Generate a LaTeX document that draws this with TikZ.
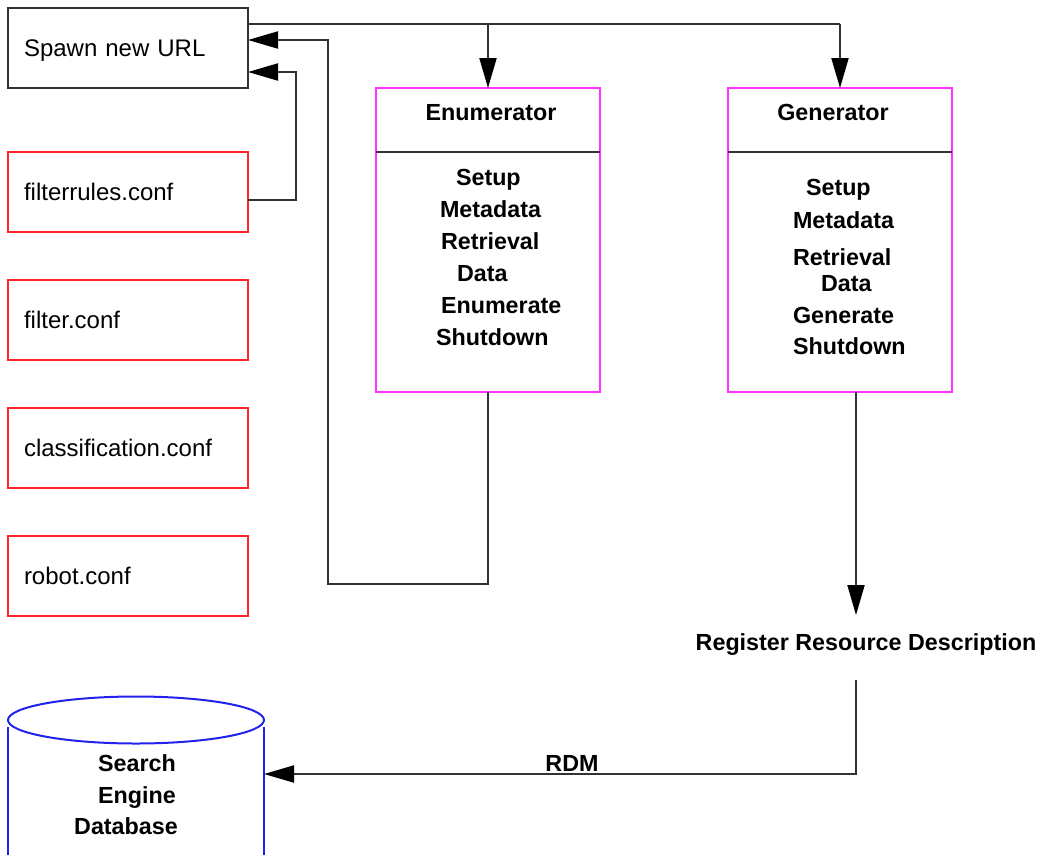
\documentclass[tikz,border=0pt]{standalone}
\usepackage{fontspec}
\setmainfont{Liberation Sans}
\usepackage{tikz}
\usetikzlibrary{positioning,arrows.meta,calc}
\definecolor{lineGray}{RGB}{51,51,51}
\definecolor{confRed}{RGB}{255,40,40}
\definecolor{procPink}{RGB}{255,51,255}
\definecolor{dbBlue}{RGB}{34,34,238}
\tikzset{
    base/.style={font=\fontsize{24}{28}\selectfont, inner sep=0pt, outer sep=0pt},
    bold/.style={base, font=\fontsize{23.3}{28}\selectfont\bfseries},
    filebox/.style={base, rectangle, line width=2pt, minimum width=240pt,
                    minimum height=80pt, text width=208pt, inner xsep=16pt,
                    text depth=0pt, align=left},
    spawnbox/.style={filebox, draw=lineGray},
    conf/.style={filebox, draw=confRed},
    proc/.style={rectangle, draw=procPink, line width=2pt, minimum width=224pt,
                 minimum height=304pt, inner sep=0pt, outer sep=0pt},
    link/.style={draw=lineGray, line width=2pt},
    flow/.style={link, -{Triangle[length=30pt, width=17pt, color=black]}},
    dbline/.style={draw=dbBlue, line width=2pt}
}

\begin{document}
\begin{tikzpicture}[x=1pt, y=-1pt]
  \useasboundingbox (0,0) rectangle (1050,855);

  % Left column
  \node[spawnbox] (spawn) at (128,48) {Spawn new URL};
  \node[conf] (filterrules) at (128,192) {filterrules.conf};
  \node[conf] (filter) at (128,320) {filter.conf};
  \node[conf] (classification) at (128,448) {classification.conf};
  \node[conf] (robot) at (128,576) {robot.conf};

  % Enumerator and Generator
  \node[proc] (enum) at (488,240) {};
  \node[proc] (gen) at (839.5,240) {};
  \draw[link] ($(enum.north west)+(0,64)$) -- ($(enum.north east)+(0,64)$);
  \draw[link] ($(gen.north west)+(0,64)$) -- ($(gen.north east)+(0,64)$);
  \node[bold, anchor=base] (enumtitle) at (491,120) {Enumerator};
  \node[bold, anchor=base] (gentitle) at (833,120) {Generator};

  \foreach \txt/\x/\y [count=\i] in {Setup/456/185, Metadata/440/217, Retrieval/441/249,
      Data/457/281, Enumerate/441/313, Shutdown/436/345}
    \node[bold, anchor=base west] (enumstep\i) at (\x,\y) {\txt};
  \foreach \txt/\x/\y [count=\i] in {Setup/806/195, Metadata/793/228, Retrieval/793/265,
      Data/821/291, Generate/793/323, Shutdown/793/354}
    \node[bold, anchor=base west] (genstep\i) at (\x,\y) {\txt};

  % Register and database
  \node[bold, anchor=base] (register) at (866,650) {Register Resource Description};
  \node[bold, anchor=base] (rdm) at (572,771) {RDM};
  \draw[dbline] (136,720) ellipse [x radius=128pt, y radius=23.5pt];
  \draw[dbline] (8,727) -- (8,855);
  \draw[dbline] (264,727) -- (264,855);
  \node[bold, anchor=base] (dbsearch) at (137,771) {Search};
  \node[bold, anchor=base] (dbengine) at (137,803) {Engine};
  \node[bold, anchor=base] (dbname) at (126,834) {Database};
  \coordinate (dbside) at (264,774);

  % Connectors
  \coordinate (top) at (840,24);
  \coordinate (loop) at (328,584);
  \coordinate (rdmstart) at (856,680);
  \draw[link] ($(spawn.north east)+(0,16)$) -- (top);
  \draw[flow] (enum.north |- top) -- (enum.north);
  \draw[flow] (top) -- (gen.north -| top);
  \draw[flow] (enum.south) |- (loop) |- ($(spawn.north east)+(0,32)$);
  \draw[flow] ($(filterrules.east)+(0,8)$) -| (296,72) -- ($(spawn.north east)+(0,64)$);
  \draw[flow] ($(gen.south)+(16.5,0)$) -- (856,615);
  \draw[flow] (rdmstart) |- (dbside);
\end{tikzpicture}
\end{document}
